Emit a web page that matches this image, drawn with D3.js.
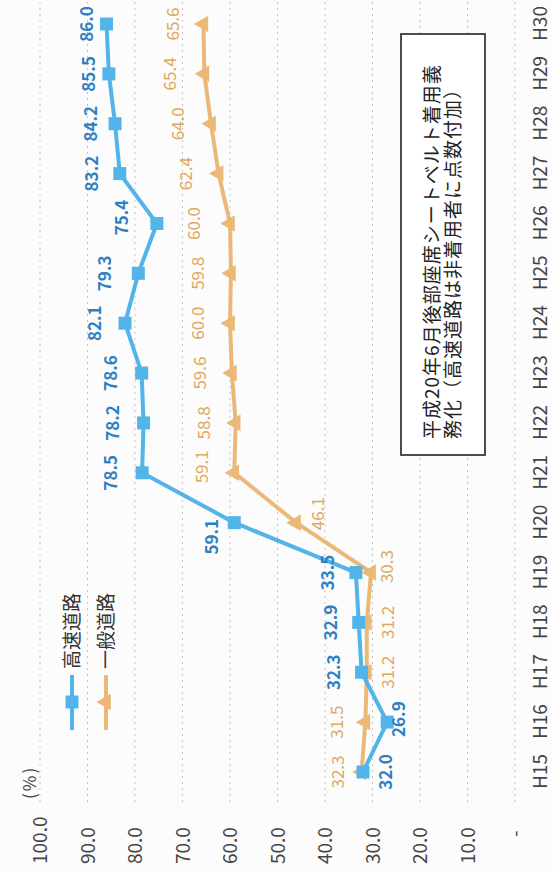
<!DOCTYPE html>
<html>
<head>
<meta charset="utf-8">
<script src="https://cdn.jsdelivr.net/npm/d3@7"></script>
<style>
  html, body { margin: 0; padding: 0; background: #fcfcfc; }
  svg { display: block; }
  text { font-family: "Noto Sans CJK JP", "Noto Sans", sans-serif; }
</style>
</head>
<body>
<script>
// Seat-belt usage rate, expressway vs. general road (%)
const categories = ['H15','H16','H17','H18','H19','H20','H21','H22','H23','H24','H25','H26','H27','H28','H29','H30'];
const expressway = [32.0, 26.9, 32.3, 32.9, 33.5, 59.1, 78.5, 78.2, 78.6, 82.1, 79.3, 75.4, 83.2, 84.2, 85.5, 86.0];
const generalRoad = [32.3, 31.5, 31.2, 31.2, 30.3, 46.1, 59.1, 58.8, 59.6, 60.0, 59.8, 60.0, 62.4, 64.0, 65.4, 65.6];
const valueTicks = [0, 10, 20, 30, 40, 50, 60, 70, 80, 90, 100];
const seriesNames = ['高速道路', '一般道路'];
const noteLines = ['平成20年6月後部座席シートベルト着用義', '務化（高速道路は非着用者に点数付加）'];

// label placement: offset across the value axis (negative = above the point)
const expresswayLabelShift = [23, 12, -28, -28, -28, -22, -31, -31, -31, -30, -33, -35, -28, -24, -20, -19];
const expresswayLabelSlide = [0, 3, 0, 0, 0, -14, 0, 0, 0, 0, 0, 6, 0, 0, 0, 0];
const generalLabelShift = [-24, -28, 21, 21, 16, 22, -32, -32, -32, -32, -33, -36, -33, -33, -34, -30];
const generalLabelSlide = [0, 0, 0, 0, 6, 9, 6, 0, 0, 0, 0, 0, 0, 0, 0, 0];

const W = 553, H = 872;
const BLUE = '#52b4e8', BLUE_TEXT = '#2f80c2';
const ORANGE = '#ebb878', ORANGE_TEXT = '#dfa85e';

const svg = d3.select('body').append('svg').attr('width', W).attr('height', H);
svg.append('rect').attr('width', W).attr('height', H).attr('fill', '#fcfcfc');

// The chart is laid out landscape (H wide, W tall) and turned a quarter counter-clockwise.
const g = svg.append('g').attr('transform', `translate(0,${H}) rotate(-90)`);

const x = d3.scalePoint().domain(categories).range([100, 848]);
const y = d3.scaleLinear().domain([0, 100]).range([515, 40]);

// gridlines
g.append('g').selectAll('line').data(valueTicks).join('line')
  .attr('x1', 70).attr('x2', H)
  .attr('y1', d => y(d)).attr('y2', d => y(d))
  .attr('stroke', '#c4c4c4').attr('stroke-width', 1)
  .attr('stroke-dasharray', '2,4');

// value axis
const yAxis = g.append('g').attr('transform', 'translate(8,0)')
  .call(d3.axisLeft(y).tickValues(valueTicks).tickSize(0)
    .tickFormat(d => d === 0 ? '-' : d.toFixed(1)));
yAxis.select('.domain').remove();
yAxis.selectAll('text')
  .attr('x', d => d === 0 ? 27 : 0)
  .attr('dy', '0.35em')
  .attr('text-anchor', 'start')
  .attr('fill', '#444')
  .style('font-size', '19px')
  .style('font-family', '"Noto Sans CJK JP", sans-serif');

// category axis
const xAxis = g.append('g').attr('transform', 'translate(0,540)')
  .call(d3.axisBottom(x).tickSize(0));
xAxis.select('.domain').remove();
xAxis.selectAll('text')
  .attr('y', 0).attr('dy', '0.35em')
  .attr('fill', '#444')
  .style('font-size', '19px')
  .style('font-family', '"Noto Sans CJK JP", sans-serif');

// unit
g.append('text').attr('x', 73).attr('y', 30).attr('dy', '0.35em')
  .attr('fill', '#444').style('font-size', '17px').style('letter-spacing', '2px')
  .text('(%)');

const line = d3.line().x((d, i) => x(categories[i])).y(d => y(d));

function drawSeries(values, color, symbolType, symbolSize, textColor, shift, slide, weight) {
  const s = g.append('g');
  s.append('path').datum(values)
    .attr('d', line).attr('fill', 'none')
    .attr('stroke', color).attr('stroke-width', 4).attr('stroke-linejoin', 'round');
  s.selectAll('path.m').data(values).join('path').attr('class', 'm')
    .attr('transform', (d, i) => `translate(${x(categories[i])},${y(d)})`)
    .attr('d', d3.symbol(symbolType, symbolSize)())
    .attr('fill', color);
  s.selectAll('text').data(values).join('text')
    .attr('x', (d, i) => x(categories[i]) + slide[i])
    .attr('y', (d, i) => y(d) + shift[i])
    .attr('dy', '0.35em')
    .attr('text-anchor', 'middle')
    .attr('fill', textColor)
    .style('font-size', '17px')
    .style('font-weight', weight)
    .text(d => d.toFixed(1));
}

drawSeries(generalRoad, ORANGE, d3.symbolTriangle, 120, ORANGE_TEXT, generalLabelShift, generalLabelSlide, 400);
drawSeries(expressway, BLUE, d3.symbolSquare, 169, BLUE_TEXT, expresswayLabelShift, expresswayLabelSlide, 600);

// legend
const legend = [
  { name: seriesNames[0], color: BLUE, sym: d3.symbolSquare, size: 169, v: 72 },
  { name: seriesNames[1], color: ORANGE, sym: d3.symbolTriangle, size: 120, v: 106 }
];
const lg = g.append('g').selectAll('g').data(legend).join('g');
lg.append('line').attr('x1', 142).attr('x2', 197)
  .attr('y1', d => d.v).attr('y2', d => d.v)
  .attr('stroke', d => d.color).attr('stroke-width', 4);
lg.append('path').attr('transform', d => `translate(170,${d.v})`)
  .attr('d', d => d3.symbol(d.sym, d.size)()).attr('fill', d => d.color);
lg.append('text').attr('x', 203).attr('y', d => d.v).attr('dy', '0.36em')
  .attr('fill', '#333').style('font-size', '19px').text(d => d.name);

// note box
g.append('rect').attr('x', 417).attr('y', 401).attr('width', 421).attr('height', 84)
  .attr('fill', '#fff').attr('stroke', '#3a3a3a').attr('stroke-width', 1.8);
g.append('g').selectAll('text').data(noteLines).join('text')
  .attr('x', 433).attr('y', (d, i) => 432 + i * 21).attr('dy', '0.36em')
  .attr('fill', '#222').style('font-size', '19px').style('letter-spacing', '1px')
  .text(d => d);
</script>
</body>
</html>
